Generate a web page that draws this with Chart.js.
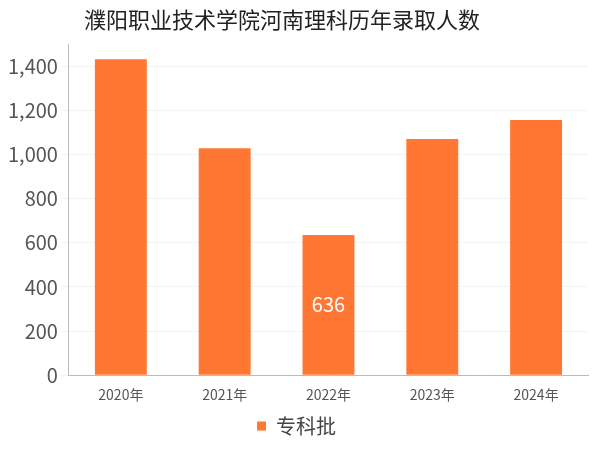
<!DOCTYPE html>
<html>
<head>
<meta charset="utf-8">
<script src="https://cdn.jsdelivr.net/npm/chart.js@4"></script>
<style>
  html, body { margin: 0; padding: 0; background: #fff; }
</style>
</head>
<body>
<canvas id="chartContainer" width="600" height="450"></canvas>
<script>
const years = ['2020年', '2021年', '2022年', '2023年', '2024年'];
const admitted = [1433, 1029, 636, 1071, 1157];
const yTicks = [0, 200, 400, 600, 800, 1000, 1200, 1400];
const labelIndex = 2;
const titleText = '濮阳职业技术学院河南理科历年录取人数';

const font = "'Noto Sans CJK SC', 'Noto Sans', sans-serif";

// value label inside one bar, plus the title drawn at a fixed left offset
const extras = {
    id: 'extras',
    afterDatasetsDraw(chart) {
        const bar = chart.getDatasetMeta(0).data[labelIndex];
        const ctx = chart.ctx;
        ctx.save();
        ctx.fillStyle = '#fff';
        ctx.font = '20px ' + font;
        ctx.textAlign = 'center';
        ctx.textBaseline = 'middle';
        ctx.fillText(admitted[labelIndex], bar.x, (bar.y + bar.base) / 2);
        ctx.fillStyle = '#222';
        ctx.font = '22px ' + font;
        ctx.textAlign = 'left';
        ctx.fillText(titleText, 84, 20);
        ctx.restore();
    }
};

new Chart(document.getElementById('chartContainer'), {
    type: 'bar',
    data: {
        labels: years,
        datasets: [{
            label: '专科批',
            data: admitted,
            backgroundColor: '#ff7733',
            barPercentage: 0.5,
            categoryPercentage: 1.0
        }]
    },
    options: {
        responsive: false,
        animation: false,
        layout: { padding: { left: 5, right: 12, top: 0, bottom: 4 } },
        plugins: {
            title: {
                display: true,
                text: titleText,
                color: 'rgba(0,0,0,0)',
                font: { family: font, size: 22, weight: 'normal' },
                padding: { top: 4, bottom: 14 }
            },
            legend: {
                position: 'bottom',
                labels: {
                    boxWidth: 9, boxHeight: 9,
                    color: '#444',
                    font: { family: font, size: 20 }
                }
            },
            tooltip: { enabled: false }
        },
        scales: {
            x: {
                grid: { display: false },
                border: { color: '#bbb' },
                ticks: { color: '#555', maxRotation: 0, font: { family: font, size: 14 } }
            },
            y: {
                min: 0, max: 1500,
                afterBuildTicks(axis) { axis.ticks = yTicks.map(v => ({ value: v })); },
                grid: { color: '#f3f3f3' },
                border: { color: '#bbb' },
                ticks: { color: '#555', font: { family: font, size: 20 } }
            }
        }
    },
    plugins: [extras]
});
</script>
</body>
</html>
